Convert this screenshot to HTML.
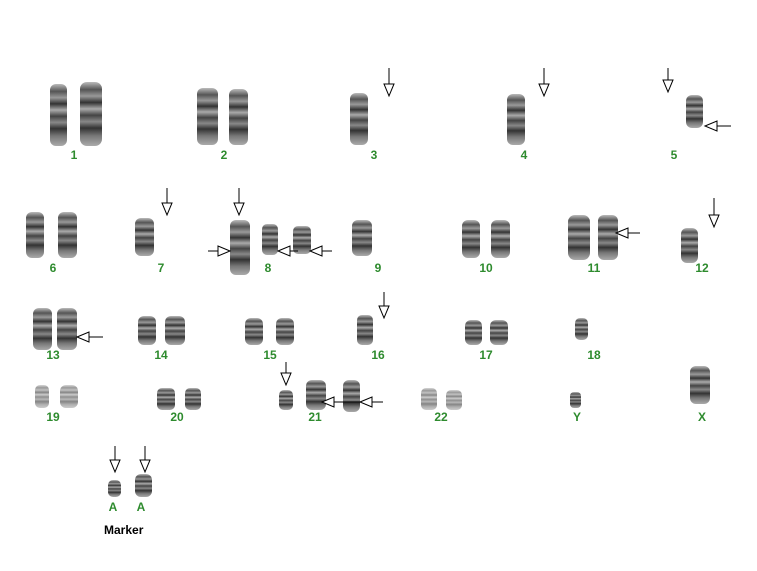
<!DOCTYPE html>
<html><head><meta charset="utf-8"><style>
html,body{margin:0;padding:0;background:#fff;}
svg{display:block;}
text{font-family:"Liberation Sans",sans-serif;font-weight:bold;font-size:12px;}
.g{fill:#2e8b2e;text-anchor:middle;}
</style></head><body>
<svg width="757" height="571" viewBox="0 0 757 571" xmlns="http://www.w3.org/2000/svg">
<defs>
<linearGradient id="b" x1="0" y1="0" x2="0" y2="1">
<stop offset="0" stop-color="#bbb"/><stop offset="0.12" stop-color="#555"/>
<stop offset="0.22" stop-color="#999"/><stop offset="0.32" stop-color="#333"/>
<stop offset="0.42" stop-color="#aaa"/><stop offset="0.52" stop-color="#444"/>
<stop offset="0.62" stop-color="#888"/><stop offset="0.72" stop-color="#333"/>
<stop offset="0.84" stop-color="#777"/><stop offset="1" stop-color="#aaa"/>
</linearGradient>
</defs>
<g fill="url(#b)">
<!-- row1 -->
<rect x="50" y="84" width="17" height="62" rx="6"/><rect x="80" y="82" width="22" height="64" rx="7"/>
<rect x="197" y="88" width="21" height="57" rx="6"/><rect x="229" y="89" width="19" height="56" rx="6"/>
<rect x="350" y="93" width="18" height="52" rx="6"/>
<rect x="507" y="94" width="18" height="51" rx="6"/>
<rect x="686" y="95" width="17" height="33" rx="6"/>
<!-- row2 -->
<rect x="26" y="212" width="18" height="46" rx="6"/><rect x="58" y="212" width="19" height="46" rx="6"/>
<rect x="135" y="218" width="19" height="38" rx="6"/>
<rect x="230" y="220" width="20" height="55" rx="6"/>
<rect x="262" y="224" width="16" height="31" rx="5"/>
<rect x="293" y="226" width="18" height="28" rx="5"/>
<rect x="352" y="220" width="20" height="36" rx="6"/>
<rect x="462" y="220" width="18" height="38" rx="6"/><rect x="491" y="220" width="19" height="38" rx="6"/>
<rect x="568" y="215" width="22" height="45" rx="7"/><rect x="598" y="215" width="20" height="45" rx="6"/>
<rect x="681" y="228" width="17" height="35" rx="6"/>
<!-- row3 -->
<rect x="33" y="308" width="19" height="42" rx="6"/><rect x="57" y="308" width="20" height="42" rx="6"/>
<rect x="138" y="316" width="18" height="29" rx="6"/><rect x="165" y="316" width="20" height="29" rx="6"/>
<rect x="245" y="318" width="18" height="27" rx="6"/><rect x="276" y="318" width="18" height="27" rx="6"/>
<rect x="357" y="315" width="16" height="30" rx="5"/>
<rect x="465" y="320" width="17" height="25" rx="6"/><rect x="490" y="320" width="18" height="25" rx="6"/>
<rect x="575" y="318" width="13" height="22" rx="5"/>
<!-- row4 -->
<rect x="35" y="385" width="14" height="23" rx="5" opacity="0.6"/><rect x="60" y="385" width="18" height="23" rx="6" opacity="0.6"/>
<rect x="157" y="388" width="18" height="22" rx="5"/><rect x="185" y="388" width="16" height="22" rx="5"/>
<rect x="279" y="390" width="14" height="20" rx="5"/>
<rect x="306" y="380" width="20" height="30" rx="6"/>
<rect x="343" y="380" width="17" height="32" rx="6"/>
<rect x="421" y="388" width="16" height="22" rx="5" opacity="0.6"/><rect x="446" y="390" width="16" height="20" rx="5" opacity="0.6"/>
<rect x="570" y="392" width="11" height="16" rx="4"/>
<rect x="690" y="366" width="20" height="38" rx="6"/>
<!-- marker -->
<rect x="108" y="480" width="13" height="17" rx="5"/>
<rect x="135" y="474" width="17" height="23" rx="6"/>
</g>
<!-- arrows -->
<g stroke="#000" stroke-width="1" fill="#fff">
<!-- down arrows: x, y1, y2 -->
<path d="M389 68V84"/><path d="M384 84L394 84L389 96Z"/>
<path d="M544 68V84"/><path d="M539 84L549 84L544 96Z"/>
<path d="M668 68V80"/><path d="M663 80L673 80L668 92Z"/>
<path d="M167 188V203"/><path d="M162 203L172 203L167 215Z"/>
<path d="M239 188V203"/><path d="M234 203L244 203L239 215Z"/>
<path d="M714 198V215"/><path d="M709 215L719 215L714 227Z"/>
<path d="M384 292V306"/><path d="M379 306L389 306L384 318Z"/>
<path d="M286 362V373"/><path d="M281 373L291 373L286 385Z"/>
<path d="M115 446V460"/><path d="M110 460L120 460L115 472Z"/>
<path d="M145 446V460"/><path d="M140 460L150 460L145 472Z"/>
<!-- left arrows -->
<path d="M717 126H731"/><path d="M705 126L717 121L717 131Z"/>
<path d="M290 251H298"/><path d="M278 251L290 246L290 256Z"/>
<path d="M322 251H332"/><path d="M310 251L322 246L322 256Z"/>
<path d="M628 233H640"/><path d="M616 233L628 228L628 238Z"/>
<path d="M89 337H103"/><path d="M77 337L89 332L89 342Z"/>
<path d="M334 402H360"/><path d="M322 402L334 397L334 407Z"/>
<path d="M372 402H383"/><path d="M360 402L372 397L372 407Z"/>
<!-- right arrow -->
<path d="M208 251H218"/><path d="M230 251L218 246L218 256Z"/>
</g>
<g class="g">
<text x="74" y="159">1</text><text x="224" y="159">2</text><text x="374" y="159">3</text><text x="524" y="159">4</text><text x="674" y="159">5</text>
<text x="53" y="272">6</text><text x="161" y="272">7</text><text x="268" y="272">8</text><text x="378" y="272">9</text><text x="486" y="272">10</text><text x="594" y="272">11</text><text x="702" y="272">12</text>
<text x="53" y="359">13</text><text x="161" y="359">14</text><text x="270" y="359">15</text><text x="378" y="359">16</text><text x="486" y="359">17</text><text x="594" y="359">18</text>
<text x="53" y="421">19</text><text x="177" y="421">20</text><text x="315" y="421">21</text><text x="441" y="421">22</text><text x="577" y="421">Y</text><text x="702" y="421">X</text>
<text x="113" y="511">A</text><text x="141" y="511">A</text>
</g>
<text x="104" y="534" fill="#000">Marker</text>
</svg>
</body></html>
